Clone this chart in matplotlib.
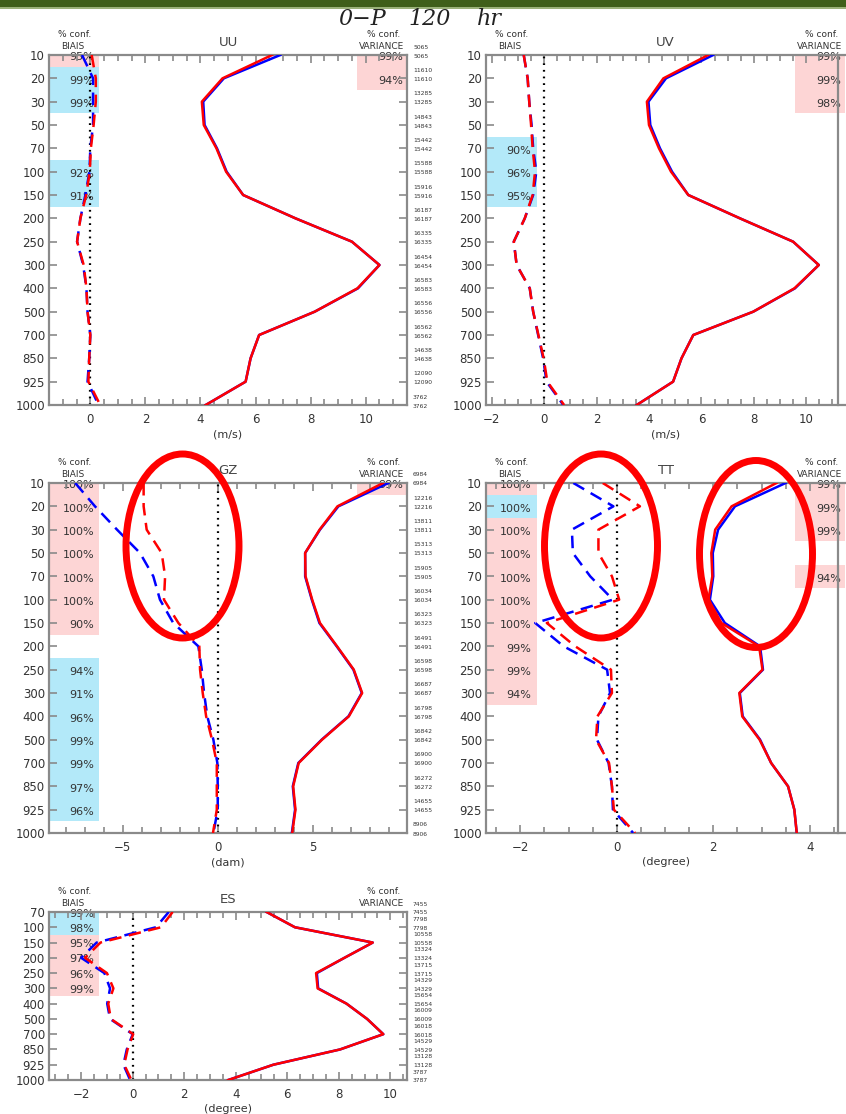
import matplotlib
matplotlib.use("Agg")
import matplotlib.pyplot as plt
from matplotlib.patches import Ellipse, Rectangle
from matplotlib.ticker import MultipleLocator
from matplotlib.transforms import blended_transform_factory, offset_copy

W, H = 846, 1114

levels = [10, 20, 30, 50, 70, 100, 150, 200, 250, 300, 400, 500, 700, 850, 925, 1000]
es_levels = [70, 100, 150, 200, 250, 300, 400, 500, 700, 850, 925, 1000]

# UU (m/s)
uu_bias_blue = [-0.3, 0.1, 0.1, 0.1, 0.0, -0.03, -0.18, -0.36, -0.48, -0.26, -0.14, -0.1, 0.0, -0.04, -0.1, 0.3]
uu_bias_red = [0.05, 0.2, 0.2, 0.12, 0.02, -0.02, -0.15, -0.36, -0.48, -0.24, -0.14, -0.1, 0.0, -0.04, -0.07, 0.36]
uu_std_blue = [6.9, 4.85, 4.1, 4.15, 4.6, 4.95, 5.55, 7.45, 9.5, 10.5, 9.72, 8.15, 6.13, 5.82, 5.64, 4.19]
uu_std_red = [6.6, 4.8, 4.05, 4.12, 4.58, 4.93, 5.55, 7.45, 9.5, 10.5, 9.7, 8.15, 6.13, 5.82, 5.64, 4.19]
uu_count = [5065, 11610, 13285, 14843, 15442, 15588, 15916, 16187, 16335, 16454, 16583, 16556, 16562, 14638, 12090, 3762]
uu_bias_sig = [1, -1, -1, 0, 0, -1, -1, 0, 0, 0, 0, 0, 0, 0, 0, 0]
uu_bias_conf = ["95%", "99%", "99%", "", "", "92%", "91%", "", "", "", "", "", "", "", "", ""]
uu_var_sig = [1, 1, 0, 0, 0, 0, 0, 0, 0, 0, 0, 0, 0, 0, 0, 0]
uu_var_conf = ["99%", "94%", "", "", "", "", "", "", "", "", "", "", "", "", "", ""]

# UV (m/s)
uv_bias_blue = [-0.78, -0.63, -0.57, -0.48, -0.42, -0.3, -0.42, -0.74, -1.16, -1.05, -0.55, -0.42, -0.23, -0.04, 0.09, 0.73]
uv_bias_red = [-0.78, -0.63, -0.57, -0.5, -0.44, -0.35, -0.44, -0.74, -1.16, -1.05, -0.55, -0.42, -0.22, -0.02, 0.12, 0.76]
uv_std_blue = [6.45, 4.65, 3.98, 4.05, 4.42, 4.88, 5.5, 7.47, 9.5, 10.48, 9.57, 7.98, 5.69, 5.24, 4.92, 3.53]
uv_std_red = [6.26, 4.55, 3.92, 4.0, 4.38, 4.84, 5.5, 7.47, 9.5, 10.48, 9.55, 7.98, 5.69, 5.24, 4.92, 3.53]
uv_bias_sig = [0, 0, 0, 0, -1, -1, -1, 0, 0, 0, 0, 0, 0, 0, 0, 0]
uv_bias_conf = ["", "", "", "", "90%", "96%", "95%", "", "", "", "", "", "", "", "", ""]
uv_var_sig = [1, 1, 1, 0, 0, 0, 0, 0, 0, 0, 0, 0, 0, 0, 0, 0]
uv_var_conf = ["99%", "99%", "98%", "", "", "", "", "", "", "", "", "", "", "", "", ""]

# GZ (dam)
gz_bias_blue = [-7.5, -6.46, -5.3, -4.09, -3.39, -3.04, -2.34, -1.02, -0.84, -0.72, -0.55, -0.23, -0.02, 0.0, 0.0, -0.23]
gz_bias_red = [-3.9, -3.9, -3.74, -2.95, -2.77, -2.83, -2.07, -0.97, -0.93, -0.79, -0.61, -0.3, -0.05, -0.05, -0.05, -0.25]
gz_std_blue = [8.98, 6.35, 5.38, 4.6, 4.6, 4.95, 5.35, 6.26, 7.14, 7.58, 6.88, 5.47, 4.24, 3.95, 4.07, 3.9]
gz_std_red = [8.7, 6.3, 5.36, 4.6, 4.62, 4.97, 5.38, 6.28, 7.16, 7.6, 6.9, 5.49, 4.26, 3.97, 4.09, 3.92]
gz_count = [6984, 12216, 13811, 15313, 15905, 16034, 16323, 16491, 16598, 16687, 16798, 16842, 16900, 16272, 14655, 8906]
gz_bias_sig = [1, 1, 1, 1, 1, 1, 1, 0, -1, -1, -1, -1, -1, -1, -1, 0]
gz_bias_conf = ["100%", "100%", "100%", "100%", "100%", "100%", "90%", "", "94%", "91%", "96%", "99%", "99%", "97%", "96%", ""]
gz_var_sig = [1, 0, 0, 0, 0, 0, 0, 0, 0, 0, 0, 0, 0, 0, 0, 0]
gz_var_conf = ["99%", "", "", "", "", "", "", "", "", "", "", "", "", "", "", ""]

# TT (degree)
tt_bias_blue = [-0.9, -0.07, -0.93, -0.91, -0.55, -0.08, -1.69, -1.1, -0.2, -0.14, -0.38, -0.41, -0.17, -0.1, -0.08, 0.34]
tt_bias_red = [-0.29, 0.48, -0.38, -0.38, -0.1, 0.05, -1.45, -0.86, -0.12, -0.1, -0.4, -0.43, -0.16, -0.1, -0.06, 0.38]
tt_std_blue = [3.5, 2.45, 2.1, 1.99, 2.0, 1.93, 2.24, 2.97, 3.03, 2.55, 2.61, 2.97, 3.2, 3.55, 3.68, 3.73]
tt_std_red = [3.31, 2.38, 2.04, 1.96, 1.98, 1.9, 2.17, 2.95, 3.02, 2.54, 2.6, 2.96, 3.2, 3.55, 3.68, 3.73]
tt_bias_sig = [1, -1, 1, 1, 1, 1, 1, 1, 1, 1, 0, 0, 0, 0, 0, 0]
tt_bias_conf = ["100%", "100%", "100%", "100%", "100%", "100%", "100%", "99%", "99%", "94%", "", "", "", "", "", ""]
tt_var_sig = [1, 1, 1, 0, 1, 0, 0, 0, 0, 0, 0, 0, 0, 0, 0, 0]
tt_var_conf = ["99%", "99%", "99%", "", "94%", "", "", "", "", "", "", "", "", "", "", ""]

# ES (degree)
es_bias_blue = [1.4, 0.9, -1.4, -2.0, -1.1, -0.88, -0.99, -0.88, 0.0, -0.23, -0.36, -0.1]
es_bias_red = [1.55, 1.1, -1.25, -1.85, -1.0, -0.75, -0.95, -0.85, 0.02, -0.2, -0.33, -0.05]
es_std_blue = [5.2, 6.3, 9.32, 8.22, 7.15, 7.2, 8.3, 9.1, 9.73, 8.05, 5.46, 3.71]
es_std_red = [5.2, 6.3, 9.32, 8.22, 7.12, 7.18, 8.3, 9.1, 9.73, 8.05, 5.46, 3.71]
es_count = [7455, 7798, 10558, 13324, 13715, 14329, 15654, 16009, 16018, 14529, 13128, 3787]
es_bias_sig = [-1, -1, 1, 1, 1, 1, 0, 0, 0, 0, 0, 0]
es_bias_conf = ["99%", "98%", "95%", "97%", "96%", "99%", "", "", "", "", "", ""]
es_var_sig = [0] * 12
es_var_conf = [""] * 12

PINK = "#fdd5d5"
CYAN = "#b3e9f9"
GRAY = "#8a8a8a"
TXT = "#333333"

fig = plt.figure(figsize=(W / 100, H / 100), dpi=100)


def px_rect(left, top, right, bottom):
    return [left / W, 1 - bottom / H, (right - left) / W, (bottom - top) / H]


def panel(rect, name, levs, bb, br, sb, sr, xlim, major, minor, unit,
          bsig, bconf, vsig, vconf, counts=None, spine_at=None):
    ax = fig.add_axes(px_rect(*rect))
    n = len(levs)
    y = list(range(n))
    trans = blended_transform_factory(ax.transAxes, ax.transData)

    # significance boxes for bias (left) and variance (right)
    for i in y:
        if bsig[i]:
            ax.add_patch(Rectangle((0, i - 0.5), 0.141, 1, transform=trans,
                                   facecolor=PINK if bsig[i] > 0 else CYAN, lw=0, zorder=0))
        if vsig[i]:
            ax.add_patch(Rectangle((0.86, i - 0.5), 0.14, 1, transform=trans,
                                   facecolor=PINK if vsig[i] > 0 else CYAN, lw=0, zorder=0))
        if bconf[i]:
            ax.text(0.126, i + 0.1, bconf[i], transform=trans, ha="right", va="center",
                    fontsize=8, color=TXT, zorder=1)
        if vconf[i]:
            ax.text(0.99, i + 0.1, vconf[i], transform=trans, ha="right", va="center",
                    fontsize=8, color=TXT, zorder=1)

    ax.axvline(0, color="k", lw=1.6, ls=(0, (0.8, 2.2)), zorder=2)
    ax.plot(bb, y, color="#0000ff", lw=1.8, dashes=(5, 3), zorder=3)
    ax.plot(br, y, color="#ff0000", lw=1.8, dashes=(5, 3), zorder=4)
    ax.plot(sb, y, color="#0000ff", lw=1.8, zorder=3)
    ax.plot(sr, y, color="#ff0000", lw=1.8, zorder=4)

    ax.set_xlim(*xlim)
    ax.set_ylim(n - 1, 0)
    ax.set_yticks(y)
    ax.set_yticklabels([str(v) for v in levs])
    ax.xaxis.set_major_locator(MultipleLocator(major))
    ax.xaxis.set_minor_locator(MultipleLocator(minor))
    ax.tick_params(axis="y", direction="in", length=6, width=1.2, left=True, right=True,
                   color=GRAY, labelcolor=TXT, labelsize=8.5, pad=3)
    ax.tick_params(axis="x", which="both", direction="in", top=True, bottom=True,
                   color=GRAY, labelcolor=TXT, labelsize=8.5, width=1.2)
    ax.tick_params(axis="x", which="major", length=6, pad=6)
    ax.tick_params(axis="x", which="minor", length=4)
    for s in ax.spines.values():
        s.set_color(GRAY)
        s.set_linewidth(1.6)
    if spine_at is not None:
        ax.spines["right"].set_position(("axes", spine_at))
        ax.tick_params(axis="y", right=False)
    ax.set_xlabel(unit, fontsize=8, color=TXT, labelpad=2)

    top = lambda dy: offset_copy(ax.transAxes, fig=fig, x=0, y=dy, units="dots")
    ax.text(0.5, 1, name, transform=top(6), ha="center", va="bottom", fontsize=9.5, color="#444444")
    ax.text(0.072, 1, "% conf.", transform=top(16), ha="center", va="bottom", fontsize=6.5, color=TXT)
    ax.text(0.067, 1, "BIAIS", transform=top(4), ha="center", va="bottom", fontsize=6.5, color=TXT)
    ax.text(0.935, 1, "% conf.", transform=top(16), ha="center", va="bottom", fontsize=6.5, color=TXT)
    ax.text(0.93, 1, "VARIANCE", transform=top(4), ha="center", va="bottom", fontsize=6.5, color=TXT)

    if counts is not None:
        for i, c in zip(y, counts):
            for dy in (8, -1):
                ax.annotate(str(c), xy=(1, i), xycoords=trans, xytext=(6, dy),
                            textcoords="offset pixels", ha="left", va="center",
                            fontsize=4.3, color=TXT, annotation_clip=False)
    return ax


panel((49, 55, 407, 405), "UU", levels, uu_bias_blue, uu_bias_red, uu_std_blue, uu_std_red,
      (-1.5, 11.5), 2, 0.5, "(m/s)", uu_bias_sig, uu_bias_conf, uu_var_sig, uu_var_conf, uu_count)
panel((486, 55, 845, 405), "UV", levels, uv_bias_blue, uv_bias_red, uv_std_blue, uv_std_red,
      (-2.22, 11.48), 2, 0.5, "(m/s)", uv_bias_sig, uv_bias_conf, uv_var_sig, uv_var_conf,
      spine_at=(838 - 486) / 359)
panel((49, 483, 407, 833), "GZ", levels, gz_bias_blue, gz_bias_red, gz_std_blue, gz_std_red,
      (-8.88, 9.96), 5, 1, "(dam)", gz_bias_sig, gz_bias_conf, gz_var_sig, gz_var_conf, gz_count)
panel((486, 483, 845, 833), "TT", levels, tt_bias_blue, tt_bias_red, tt_std_blue, tt_std_red,
      (-2.71, 4.73), 2, 0.5, "(degree)", tt_bias_sig, tt_bias_conf, tt_var_sig, tt_var_conf,
      spine_at=(838 - 486) / 359)
panel((49, 912, 407, 1080), "ES", es_levels, es_bias_blue, es_bias_red, es_std_blue, es_std_red,
      (-3.25, 10.65), 2, 0.5, "(degree)", es_bias_sig, es_bias_conf, es_var_sig, es_var_conf, es_count)

# banner strip and title
fig.add_artist(Rectangle((0, 1 - 7 / H), 1, 7 / H, transform=fig.transFigure,
                         facecolor="#3f5f1a", edgecolor="none"))
fig.add_artist(Rectangle((0, 1 - 9 / H), 1, 2 / H, transform=fig.transFigure,
                         facecolor="#9bb27a", edgecolor="none"))
for word, xc in [("0\u2212P", 362), ("120", 430), ("hr", 489)]:
    fig.text(xc / W, 1 - 25 / H, word, ha="center", va="baseline",
             fontsize=16, family="DejaVu Serif", style="italic", color="#222222")

# red highlight rings
for cx, cy, w, h in [(182.5, 546, 113, 184), (601, 546, 113, 184), (756, 554, 113, 187)]:
    fig.add_artist(Ellipse((cx / W, 1 - cy / H), w / W, h / H, transform=fig.transFigure,
                           fill=False, edgecolor="#ff0000", lw=5, zorder=10))

fig.savefig("out.png", dpi=100)
